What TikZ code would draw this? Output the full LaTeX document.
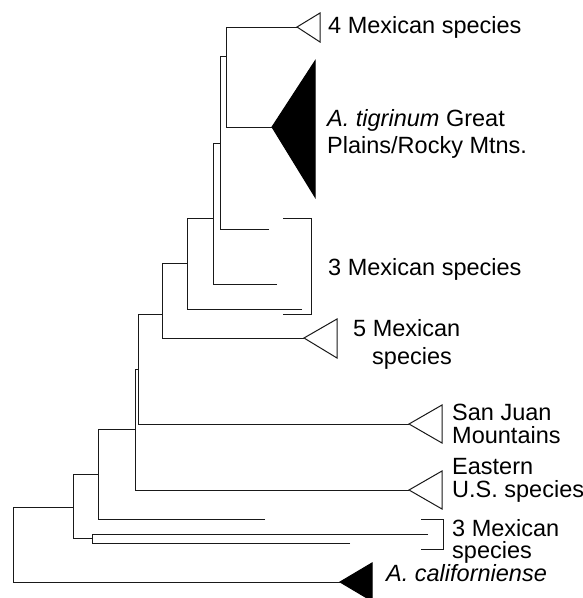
\documentclass[tikz,border=0pt]{standalone}
\usepackage{fontspec}
\setmainfont{Liberation Sans}
\begin{document}
\begin{tikzpicture}[x=1pt,y=-1pt,
  branch/.style={line width=1pt,black!90},
  openclade/.style={line width=1pt,black!90,fill=white,line join=miter},
  fullclade/.style={line width=1pt,black,fill=black,line join=miter},
  lbl/.style={anchor=base west,inner sep=0pt,font=\fontsize{23.5}{27}\selectfont}]
\clip (0,0) rectangle (583,598);
\fill[white] (0,0) rectangle (583,598);
% internal nodes (x, attach y)
\coordinate (n226) at (226,56);
\coordinate (n220) at (220,143);
\coordinate (n213) at (213,218);
\coordinate (n187) at (187,263);
\coordinate (n162) at (162,314);
\coordinate (n138) at (138,369);
\coordinate (n135) at (135,429);
\coordinate (n98)  at (98,474);
\coordinate (n73)  at (73,507);
\coordinate (n92)  at (92,538);
\coordinate (root) at (13,545);
% leaves / clade tips
\coordinate (tipA) at (297,27);
\coordinate (tipB) at (272,127);
\coordinate (leafa) at (269,229);
\coordinate (leafb) at (277,284);
\coordinate (leafc) at (302,309);
\coordinate (tipC) at (304,338);
\coordinate (tipD) at (409,424);
\coordinate (tipE) at (409,490);
\coordinate (leafd) at (265,519);
\coordinate (leafe) at (428,534);
\coordinate (leaff) at (350,543);
\coordinate (tipF) at (340,582);
% branches
\draw[branch] (tipA) -| (n226);
\draw[branch] (tipB) -| (n226);
\draw[branch] (n226) -| (n220);
\draw[branch] (leafa) -| (n220);
\draw[branch] (n220) -| (n213);
\draw[branch] (leafb) -| (n213);
\draw[branch] (n213) -| (n187);
\draw[branch] (leafc) -| (n187);
\draw[branch] (n187) -| (n162);
\draw[branch] (tipC) -| (n162);
\draw[branch] (n162) -| (n138);
\draw[branch] (tipD) -| (n138);
\draw[branch] (n138) -| (n135);
\draw[branch] (tipE) -| (n135);
\draw[branch] (n135) -| (n98);
\draw[branch] (leafd) -| (n98);
\draw[branch] (n98) -| (n73);
\draw[branch] (n92) -| (n73);
\draw[branch] (leafe) -| (n92);
\draw[branch] (leaff) -| (n92);
\draw[branch] (n73) -| (root);
\draw[branch] (tipF) -| (root);
% clade triangles
\draw[openclade] (tipA) -- (320,13) -- (320,42) -- cycle;
\draw[fullclade] (tipB) -- (315,61) -- (315,197) -- cycle;
\draw[openclade] (tipC) -- (337,319) -- (337,358) -- cycle;
\draw[openclade] (tipD) -- (442,405) -- (442,443) -- cycle;
\draw[openclade] (tipE) -- (442,471) -- (442,509) -- cycle;
\draw[fullclade] (tipF) -- (372,563) -- (372,601) -- cycle;
% brackets
\draw[branch] (283,218) -- (311,218) -- (311,314) -- (283,314);
\draw[branch] (421,519) -- (443,519) -- (443,549) -- (421,549);
% labels
\node[lbl] (l1) at (328,33) {4 Mexican species};
\node[lbl] (l2a) at (327,126) {\textit{A. tigrinum} Great};
\node[lbl] (l2b) at (327,153) {Plains/Rocky Mtns.};
\node[lbl] (l3) at (328,275) {3 Mexican species};
\node[lbl] (l4a) at (353,336) {5 Mexican};
\node[lbl] (l4b) at (372,364) {species};
\node[lbl] (l5a) at (452,420) {San Juan};
\node[lbl] (l5b) at (452,443) {Mountains};
\node[lbl] (l6a) at (452,474) {Eastern};
\node[lbl] (l6b) at (452,497) {U.S. species};
\node[lbl] (l7a) at (452,536) {3 Mexican};
\node[lbl] (l7b) at (452,558) {species};
\node[lbl] (l8) at (386,581) {\textit{A. californiense}};
\end{tikzpicture}
\end{document}
